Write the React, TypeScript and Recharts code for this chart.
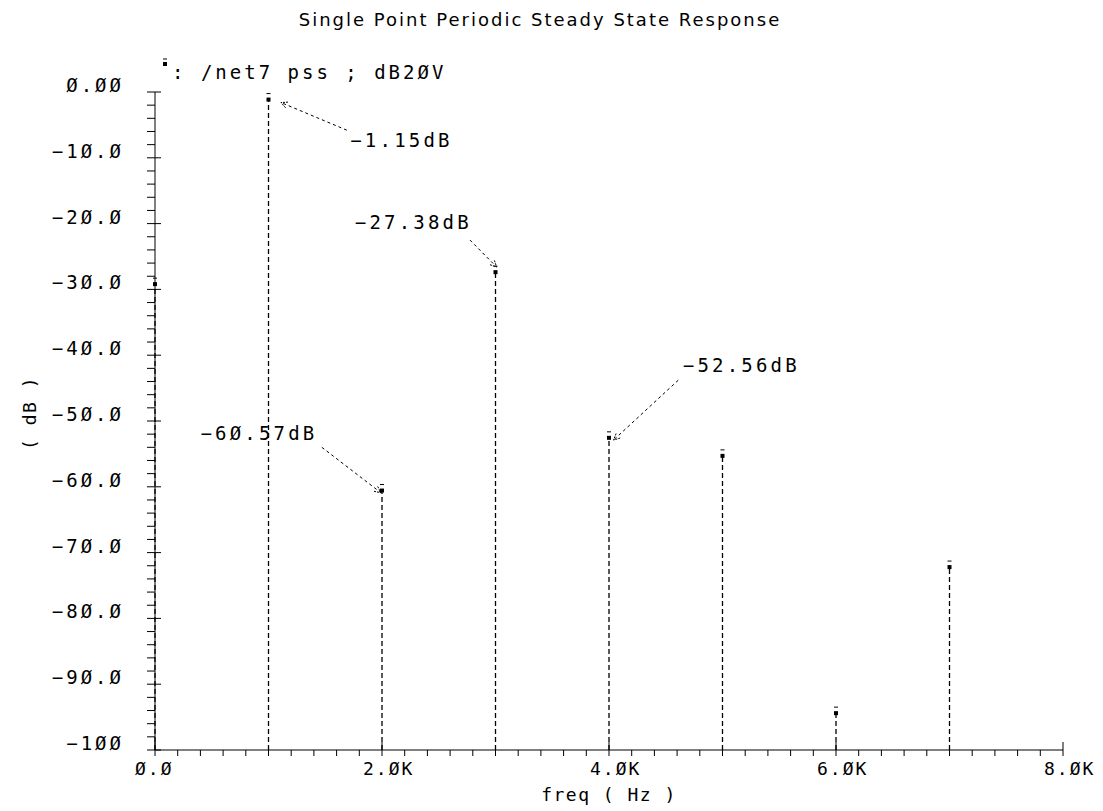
import { ComposedChart, XAxis, YAxis, Scatter, ReferenceLine, ReferenceDot, Label } from "recharts";

// spectrum of /net7 (pss, dB20V)
const freqs = [0, 1000, 2000, 3000, 4000, 5000, 6000, 7000];
const levels = [-29.2, -1.15, -60.57, -27.38, -52.56, -55.3, -94.4, -72.2];

const xMajor = [0, 2000, 4000, 6000, 8000];
const xMajorLabels = ["Ø.Ø", "2.ØK", "4.ØK", "6.ØK", "8.ØK"];
const yMajor = [0, -10, -20, -30, -40, -50, -60, -70, -80, -90, -100];
const yMajorLabels = ["Ø.ØØ", "−1Ø.Ø", "−2Ø.Ø", "−3Ø.Ø", "−4Ø.Ø", "−5Ø.Ø", "−6Ø.Ø", "−7Ø.Ø", "−8Ø.Ø", "−9Ø.Ø", "−1ØØ"];

// minor ticks: 200 Hz and 2 dB
const xTicks = Array.from({ length: 41 }, (_, i) => i * 200);
const yTicks = Array.from({ length: 51 }, (_, i) => -i * 2);

// marker annotations
const annText = ["−1.15dB", "−27.38dB", "−52.56dB", "−6Ø.57dB"];
const annTextX = [1720, 1760, 4650, 400];
const annTextY = [-8.4, -20.8, -42.5, -52.9];
const arrowFromX = [1690, 2775, 4610, 1470];
const arrowFromY = [-5.8, -22.5, -43.8, -54];
const arrowToX = [1110, 3010, 4040, 1990];
const arrowToY = [-1.6, -26.6, -52.9, -60.9];

const FONT = "'DejaVu Sans', sans-serif";
const MONO = "'DejaVu Sans Mono', monospace";

const points = freqs.map((f, i) => ({ f, v: levels[i] }));

function XTick(props: any) {
  const { x, y, payload } = props;
  const v = payload.value;
  const idx = xMajor.indexOf(v);
  const major = idx >= 0;
  const lbl = major ? xMajorLabels[idx] : "";
  const off = lbl.endsWith("K") ? 19 : 20;
  return (
    <g>
      <line x1={x} x2={x} y1={major ? y - 8 : y} y2={y + 6} stroke="#000" strokeWidth={1} />
      {major && (
        <text x={x - off} y={y + 25} textAnchor="start" fontFamily={MONO} fontSize={18} letterSpacing={2} fill="#000">
          {lbl}
        </text>
      )}
    </g>
  );
}

function YTick(props: any) {
  const { x, y, payload } = props;
  const v = payload.value;
  const idx = yMajor.indexOf(v);
  const major = idx >= 0;
  return (
    <g>
      <line x1={x - 8} x2={major ? x + 6 : x} y1={y} y2={y} stroke="#000" strokeWidth={1} />
      {major && (
        <text x={x - 31} y={y - 7} textAnchor="end" dominantBaseline="central" fontFamily={MONO} fontSize={19} letterSpacing={3} fill="#000">
          {yMajorLabels[idx]}
        </text>
      )}
    </g>
  );
}

function Marker(props: any) {
  const { cx, cy } = props;
  return (
    <g>
      <line x1={cx - 2} x2={cx + 2} y1={cy - 6} y2={cy - 6} stroke="#000" strokeWidth={1} />
      <rect x={cx - 2} y={cy - 2} width={4} height={4} fill="#000" />
    </g>
  );
}

function Arrow(props: any) {
  const { x1, y1, x2, y2 } = props;
  const a = Math.atan2(y2 - y1, x2 - x1);
  const h = 7;
  const p1 = [x2 - h * Math.cos(a - 0.45), y2 - h * Math.sin(a - 0.45)];
  const p2 = [x2 - h * Math.cos(a + 0.45), y2 - h * Math.sin(a + 0.45)];
  return (
    <g>
      <line x1={x1} y1={y1} x2={x2} y2={y2} stroke="#000" strokeWidth={1} strokeDasharray="3 3" />
      <polyline points={`${p1[0]},${p1[1]} ${x2},${y2} ${p2[0]},${p2[1]}`} fill="none" stroke="#000" strokeWidth={1} strokeDasharray="2 1" />
    </g>
  );
}

export default function App() {
  return (
    <div style={{ position: "absolute", left: 0, top: 0, width: 1103, height: 811, background: "#fff" }}>
      <ComposedChart width={1103} height={811} data={points} margin={{ top: 92, right: 40, bottom: 21, left: 0 }}>
        <XAxis
          type="number"
          dataKey="f"
          domain={[0, 8000]}
          ticks={xTicks}
          interval={0}
          height={40}
          tickSize={0}
          tickMargin={0}
          tickLine={false}
          tick={<XTick />}
          axisLine={{ stroke: "#000", strokeWidth: 1 }}
        >
          <Label
            content={({ viewBox }: any) => (
              <text x={viewBox.x + viewBox.width / 2} y={viewBox.y + 51} textAnchor="middle" fontFamily={MONO} fontSize={18} letterSpacing={1.5} fill="#000">
                freq ( Hz )
              </text>
            )}
          />
        </XAxis>
        <YAxis
          type="number"
          dataKey="v"
          domain={[-100, 0]}
          ticks={yTicks}
          interval={0}
          width={155}
          tickSize={0}
          tickMargin={0}
          tickLine={false}
          tick={<YTick />}
          axisLine={{ stroke: "#000", strokeWidth: 1 }}
        >
          <Label
            content={({ viewBox }: any) => {
              const cx = 29;
              const cy = viewBox.y + viewBox.height / 2 - 8;
              return (
                <text x={cx} y={cy} transform={`rotate(-90 ${cx} ${cy})`} textAnchor="middle" dominantBaseline="central" fontFamily={MONO} fontSize={18} letterSpacing={1.5} fill="#000">
                  ( dB )
                </text>
              );
            }}
          />
        </YAxis>
        {freqs.map((f, i) => (
          <ReferenceLine
            key={"stem" + i}
            segment={[{ x: f, y: -100 }, { x: f, y: levels[i] }]}
            stroke="#000"
            strokeWidth={1.3}
            strokeDasharray="5 3"
          />
        ))}
        {annText.map((t, i) => (
          <ReferenceLine
            key={"arr" + i}
            segment={[{ x: arrowFromX[i], y: arrowFromY[i] }, { x: arrowToX[i], y: arrowToY[i] }]}
            shape={<Arrow />}
          />
        ))}
        {annText.map((t, i) => (
          <ReferenceDot
            key={"ann" + i}
            x={annTextX[i]}
            y={annTextY[i]}
            r={0}
            shape={(p: any) => (
              <text x={p.cx} y={p.cy} textAnchor="start" fontFamily={MONO} fontSize={19} letterSpacing={3.2} fill="#000">
                {t}
              </text>
            )}
          />
        ))}
        <Scatter dataKey="v" shape={<Marker />} isAnimationActive={false} />
      </ComposedChart>
      <svg width={1103} height={100} style={{ position: "absolute", left: 0, top: 0, pointerEvents: "none" }}>
        <text x={540} y={26} textAnchor="middle" fontFamily={FONT} fontSize={18} letterSpacing={2} fill="#000">
          Single Point Periodic Steady State Response
        </text>
        <line x1={163} x2={167} y1={59} y2={59} stroke="#000" strokeWidth={1} />
        <rect x={163} y={62} width={4} height={4} fill="#000" />
        <text x={172} y={79} textAnchor="start" fontFamily={MONO} fontSize={19} letterSpacing={3} fill="#000">
          : /net7 pss ; dB2ØV
        </text>
      </svg>
    </div>
  );
}
